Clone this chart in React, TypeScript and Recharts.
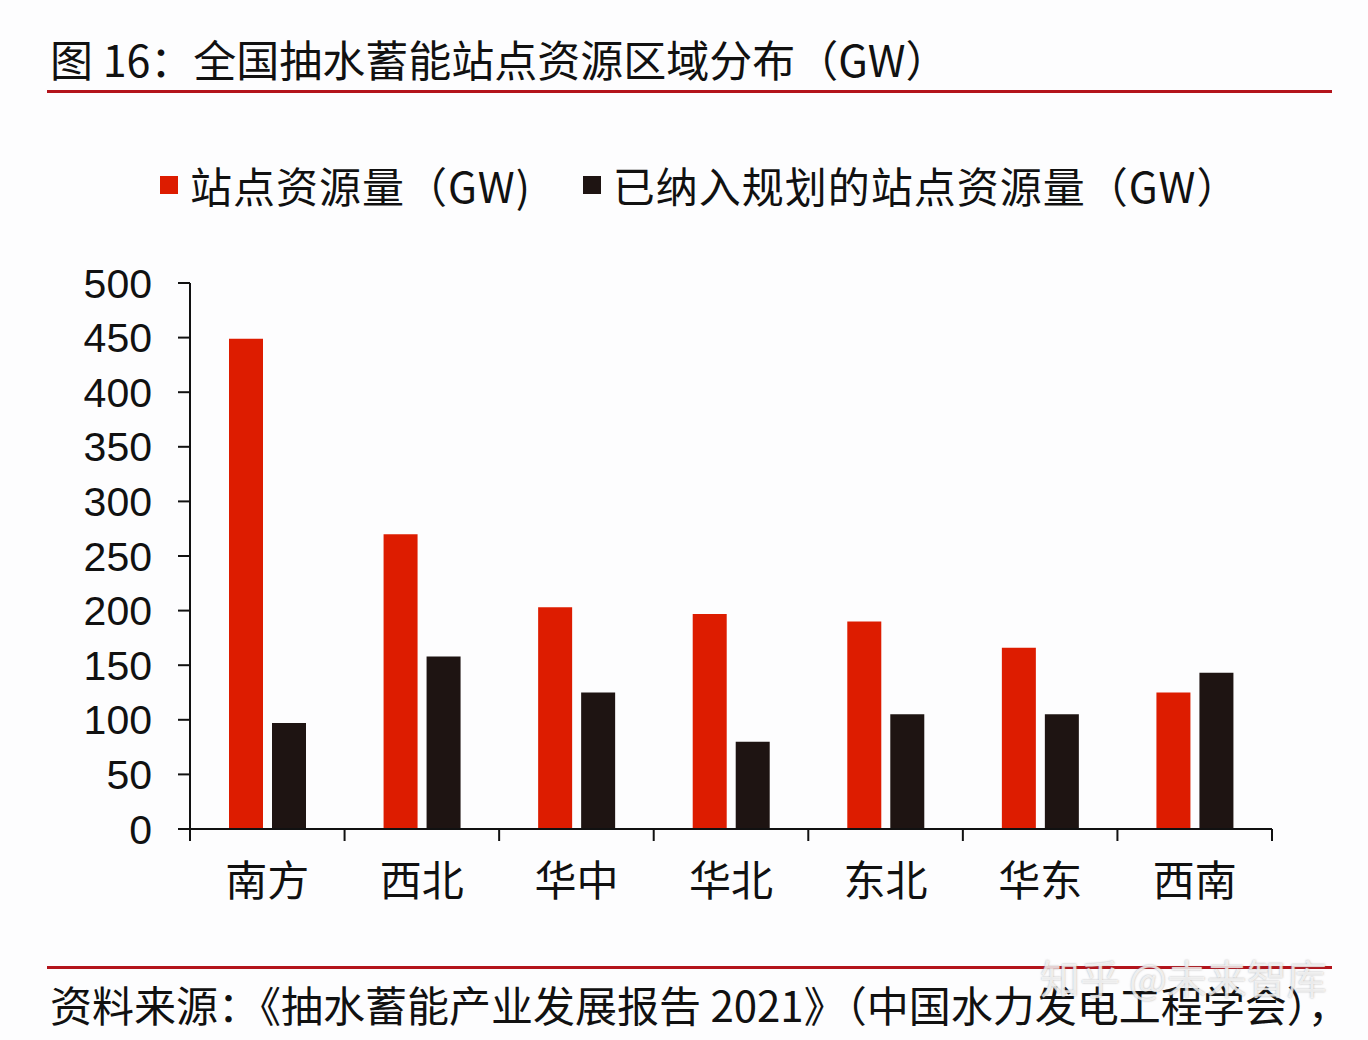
import { BarChart, Bar, XAxis, YAxis } from "recharts"

const regions = ["南方", "西北", "华中", "华北", "东北", "华东", "西南"]
const siteResource = [449, 270, 203, 197, 190, 166, 125]
const plannedResource = [97, 158, 125, 80, 105, 105, 143]
const yTicks = [0, 50, 100, 150, 200, 250, 300, 350, 400, 450, 500]

const RED = "#dd1c00"
const DARK = "#1e1412"
const INK = "#111"
const CJK = "'Noto Sans CJK SC', 'Liberation Sans', sans-serif"
const LATIN = "'Liberation Sans', Arial, sans-serif"
const X_TICK_MARGIN = 37
const X_TICK_LEN = 12

const series = [
    { key: "site", name: "站点资源量（GW)", color: RED },
    { key: "planned", name: "已纳入规划的站点资源量（GW）", color: DARK },
]

const data = regions.map((name, i) => ({
    name,
    site: siteResource[i],
    planned: plannedResource[i],
}))

// category label + tick marks on the band edges (like Excel "between categories")
function RegionTick(props: any) {
    const { x, y, payload, index } = props
    const half = payload?.offset ?? 0
    const axisY = y - X_TICK_MARGIN
    const left = x - half
    const right = x + half
    return (
        <g>
            <line x1={left} x2={left} y1={axisY} y2={axisY + X_TICK_LEN} stroke={INK} strokeWidth={2} />
            {index === regions.length - 1 && (
                <line x1={right} x2={right} y1={axisY} y2={axisY + X_TICK_LEN} stroke={INK} strokeWidth={2} />
            )}
            <text x={x} y={y} dy="0.71em" textAnchor="middle" fontFamily={CJK} fontSize={42} fill={INK}>
                {payload.value}
            </text>
        </g>
    )
}

export default function App() {
    return (
        <div style={{ position: "absolute", left: 0, top: 0, width: 1368, height: 1040, background: "#fdfdfe", overflow: "hidden" }}>
            <div style={{ position: "absolute", left: 50, top: 30, fontFamily: CJK, fontSize: 43, color: INK, whiteSpace: "nowrap", lineHeight: "56px" }}>
                图 16：全国抽水蓄能站点资源区域分布（GW）
            </div>
            <div style={{ position: "absolute", left: 47, top: 90, width: 1285, height: 3, background: "#b3141c" }} />

            {/* legend */}
            <div style={{ position: "absolute", left: 160, top: 157, display: "flex", alignItems: "center", fontFamily: CJK, fontSize: 42, letterSpacing: 1, color: INK, whiteSpace: "nowrap", lineHeight: "56px" }}>
                {series.map((s) => (
                    <div key={s.key} style={{ display: "flex", alignItems: "center", marginRight: 52 }}>
                        <span style={{ display: "inline-block", width: 18, height: 18, background: s.color, marginRight: 12 }} />
                        <span>{s.name}</span>
                    </div>
                ))}
            </div>

            <div style={{ position: "absolute", left: 0, top: 0 }}>
                <BarChart
                    width={1368}
                    height={1040}
                    data={data}
                    margin={{ top: 283, right: 96, bottom: 131, left: 80 }}
                    barGap={9}
                >
                    <XAxis
                        dataKey="name"
                        height={80}
                        axisLine={{ stroke: INK, strokeWidth: 2 }}
                        tickLine={false}
                        tickSize={0}
                        tickMargin={X_TICK_MARGIN}
                        interval={0}
                        tick={<RegionTick />}
                    />
                    <YAxis
                        width={110}
                        domain={[0, 500]}
                        ticks={yTicks}
                        interval={0}
                        axisLine={{ stroke: INK, strokeWidth: 2 }}
                        tickLine={{ stroke: INK, strokeWidth: 2 }}
                        tickSize={12}
                        tickMargin={26}
                        tick={{ fontFamily: LATIN, fontSize: 41, fill: INK }}
                    />
                    {series.map((s) => (
                        <Bar key={s.key} dataKey={s.key} name={s.name} fill={s.color} barSize={34} isAnimationActive={false} />
                    ))}
                </BarChart>
            </div>

            <div style={{ position: "absolute", left: 47, top: 966, width: 1285, height: 3, background: "#b3141c" }} />
            <div style={{ position: "absolute", left: 50, top: 976, fontFamily: CJK, fontSize: 42, color: INK, whiteSpace: "nowrap", lineHeight: "56px" }}>
                资料来源：《抽水蓄能产业发展报告 2021》（中国水力发电工程学会），
            </div>
            <div style={{ position: "absolute", left: 1040, top: 948, fontFamily: CJK, fontSize: 40, color: "rgba(255,255,255,0.75)", textShadow: "0 0 2px rgba(120,120,120,0.6)", whiteSpace: "nowrap" }}>
                知乎 @未来智库
            </div>
        </div>
    )
}
